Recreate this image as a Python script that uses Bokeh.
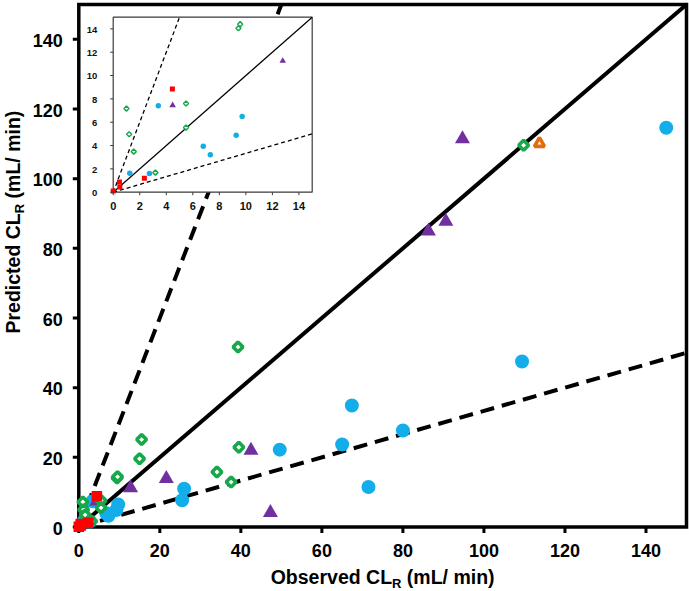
import numpy as np
from bokeh.plotting import figure
from bokeh.models import Range1d, Label
from bokeh.core.properties import value
from bokeh.embed import file_html
from bokeh.resources import INLINE

# ---------------- data ----------------
x_ticks = [0, 20, 40, 60, 80, 100, 120, 140]
y_ticks = [0, 20, 40, 60, 80, 100, 120, 140]
inset_ticks = [0, 2, 4, 6, 8, 10, 12, 14]
axis_max = 150
inset_max = 15
ref_slopes = [1.0, 3.0, 1 / 3]

blue_x = [145.0, 109.4, 67.4, 49.6, 65.0, 80.0, 71.5, 26.0, 25.5, 3.4, 9.72, 9.27, 6.79, 7.32, 1.25, 2.73]
blue_y = [114.6, 47.5, 34.9, 22.2, 23.7, 27.7, 11.5, 11.0, 7.7, 7.4, 6.48, 4.88, 3.94, 3.2, 1.63, 1.6]

green_x = [109.8, 39.3, 15.5, 15.0, 9.44, 9.57, 39.5, 34.1, 37.6, 1.0, 1.2, 1.55, 5.49, 5.49, 3.18]
green_y = [109.6, 51.7, 25.1, 19.6, 14.05, 14.4, 22.9, 15.8, 12.9, 7.17, 4.97, 3.48, 7.6, 5.54, 1.68]

purple_x = [94.7, 90.6, 86.3, 42.5, 21.6, 12.78, 47.3, 4.48]
purple_y = [111.4, 87.7, 84.9, 22.0, 13.9, 11.25, 4.1, 7.45]

red_x = [4.46, 2.35, 0.47, 0.5, 0.0]
red_y = [8.85, 1.2, 0.88, 0.45, 0.1]

orange_x = [113.7]
orange_y = [110.1]

x_title = ["Observed CL", "R", " (mL/ min)"]
y_title = ["Predicted CL", "R", " (mL/ min)"]

# ---------------- layout (canvas pixels) ----------------
FONT = "Liberation Sans"
W, H = 689, 591
PL, PR, PT, PB = 78.3, 686.0, 4.0, 526.5          # main plot box
IL, IR, IT, IB = 112.7, 311.7, 16.7, 191.7        # inset box

kx = axis_max / (PR - PL)
ky = axis_max / (PB - PT)

p = figure(width=W, height=H,
           x_range=Range1d(-PL * kx, (W - PL) * kx),
           y_range=Range1d(-(H - PB) * ky, PB * ky),
           x_axis_location=None, y_axis_location=None,
           output_backend="svg", toolbar_location=None,
           min_border_left=0, min_border_right=0, min_border_top=0, min_border_bottom=0)
p.xgrid.visible = False
p.ygrid.visible = False
p.outline_line_color = None
p.background_fill_color = "white"
p.border_fill_color = "white"

BLUE = "#13AEEA"
GREEN = "#17A84C"
PURPLE = "#7030A0"
RED = "#FF0000"
ORANGE = "#E46C0A"

# ---------------- main reference lines ----------------
for s in ref_slopes:
    xe = min(axis_max, axis_max / s)
    if s == 1.0:
        p.line([0, xe], [0, s * xe], line_color="black", line_width=4)
    else:
        p.line([0, xe], [0, s * xe], line_color="black", line_width=4, line_dash="14 8")

# ---------------- main axes (box, ticks, tick labels) ----------------
p.quad(left=[0], right=[axis_max], bottom=[0], top=[axis_max], fill_color=None,
       line_color="black", line_width=3.5, line_join="miter")
TL = 6
p.segment(x0=x_ticks, y0=[0] * len(x_ticks), x1=x_ticks, y1=[-TL * ky] * len(x_ticks),
          line_color="black", line_width=3)
p.segment(x0=[0] * len(y_ticks), y0=y_ticks, x1=[-TL * kx] * len(y_ticks), y1=y_ticks,
          line_color="black", line_width=3)
p.text(x=x_ticks, y=[0] * len(x_ticks), text=[str(t) for t in x_ticks],
       text_align="center", text_baseline="middle", y_offset=30 - 0.3465 * 18,
       text_font=value(FONT), text_font_style="bold", text_font_size="18px", text_color="black")
p.text(x=[0] * len(y_ticks), y=y_ticks, text=[str(t) for t in y_ticks],
       text_align="right", text_baseline="middle", x_offset=-16, y_offset=7.5 - 0.3465 * 18,
       text_font=value(FONT), text_font_style="bold", text_font_size="18px", text_color="black")

# ---------------- main points ----------------
series = [
    (blue_x, blue_y, dict(marker="circle", size=14, fill_color=BLUE, line_color=None),
     dict(marker="circle", size=5.5, fill_color=BLUE, line_color=None)),
    (purple_x, purple_y, dict(marker="triangle", size=15, fill_color=PURPLE, line_color=None),
     dict(marker="triangle", size=6.5, fill_color=PURPLE, line_color=None)),
    (green_x, green_y, dict(marker="square", angle=np.pi / 4, size=7, fill_color="white",
                            line_color=GREEN, line_width=3.6),
     dict(marker="square", angle=np.pi / 4, size=3.6, fill_color="white", line_color=GREEN, line_width=1.5)),
    (red_x, red_y, dict(marker="square", size=10.5, fill_color=RED, line_color=None),
     dict(marker="square", size=5, fill_color=RED, line_color=None)),
    (orange_x, orange_y, dict(marker="triangle", size=10, fill_color="white", line_color=ORANGE,
                              line_width=3.6), None),
]
for xs, ys, st, _ in series:
    p.scatter(xs, ys, **st)

# ---------------- inset (same canvas, own ranges) ----------------
ixpp = inset_max / (IR - IL)
iypp = inset_max / (IB - IT)
p.extra_x_ranges = {"ix": Range1d(-IL * ixpp, (W - IL) * ixpp)}
p.extra_y_ranges = {"iy": Range1d(-(H - IB) * iypp, IB * iypp)}
R = dict(x_range_name="ix", y_range_name="iy")

p.quad(left=[0], right=[inset_max], bottom=[0], top=[inset_max], fill_color="white",
       line_color="#3a3a3a", line_width=1.2, **R)

for s in ref_slopes:
    xe = min(inset_max, inset_max / s)
    if s == 1.0:
        p.line([0, xe], [0, s * xe], line_color="black", line_width=1.2, **R)
    else:
        p.line([0, xe], [0, s * xe], line_color="black", line_width=1.3, line_dash="4 3", **R)

for xs, ys, _, st in series:
    if st is None:
        continue
    xa, ya = np.array(xs), np.array(ys)
    m = (xa <= inset_max) & (ya <= inset_max)
    p.scatter(xa[m], ya[m], **st, **R)

itl = 3
p.segment(x0=inset_ticks, y0=[0] * len(inset_ticks), x1=inset_ticks,
          y1=[-itl * iypp] * len(inset_ticks), line_color="#3a3a3a", line_width=1, **R)
p.segment(x0=[0] * len(inset_ticks), y0=inset_ticks, x1=[-itl * ixpp] * len(inset_ticks),
          y1=inset_ticks, line_color="#3a3a3a", line_width=1, **R)
p.text(x=inset_ticks, y=[0] * len(inset_ticks), text=[str(t) for t in inset_ticks],
       text_align="center", text_baseline="middle", y_offset=18 - 0.3465 * 11,
       text_font=value(FONT), text_font_style="bold", text_font_size="11px", text_color="#111111", **R)
p.text(x=[0] * len(inset_ticks), y=inset_ticks, text=[str(t) for t in inset_ticks],
       text_align="right", text_baseline="middle", x_offset=-16, y_offset=4 - 0.3465 * 9.5,
       text_font=value(FONT), text_font_style="bold", text_font_size="9.5px", text_color="#111111", **R)

# ---------------- axis titles (with subscript) ----------------
AW = {'O': 778, 'b': 611, 's': 556, 'e': 556, 'r': 389, 'v': 556, 'd': 611, ' ': 278, 'C': 722,
      'L': 611, 'R': 722, '(': 333, 'm': 889, '/': 278, 'i': 278, 'n': 611, ')': 333, 'P': 667,
      'c': 556, 't': 333}


def tw(s, size):
    return sum(AW.get(c, 556) for c in s) / 1000 * size


TS, SS, SUB = 19.5, 13, 4.5
sizes = [TS, SS, TS]
MID = 0.3465   # baseline -> em-box middle, in em

# x title: centred under the plot box (baseline at canvas y 583)
total = sum(tw(t, fs) for t, fs in zip(x_title, sizes))
pos = (PL + PR) / 2 - total / 2
base = 583
for i, (t, fs) in enumerate(zip(x_title, sizes)):
    lead = len(t) - len(t.lstrip())
    pos += tw(" " * lead, fs)
    yy = base + (SUB if i == 1 else 0) - MID * fs
    p.add_layout(Label(x=(pos - PL) * kx, y=(PB - yy) * ky, text=t.strip(), text_font=FONT,
                       text_font_style="bold", text_font_size=f"{fs}px", text_color="black",
                       text_align="left", text_baseline="middle"))
    pos += tw(t.lstrip(), fs)

# y title: rotated, reading upward (baseline at canvas x 19)
pos = 333
bx = 19
for i, (t, fs) in enumerate(zip(y_title, sizes)):
    lead = len(t) - len(t.lstrip())
    pos -= tw(" " * lead, fs)
    xx = bx + (SUB if i == 1 else 0) - MID * fs
    p.add_layout(Label(x=(xx - PL) * kx, y=(PB - pos) * ky, text=t.strip(), text_font=FONT,
                       text_font_style="bold", text_font_size=f"{fs}px", text_color="black",
                       text_align="left", text_baseline="middle", angle=np.pi / 2))
    pos -= tw(t.lstrip(), fs)

open("out.html", "w").write(file_html(p, INLINE))
